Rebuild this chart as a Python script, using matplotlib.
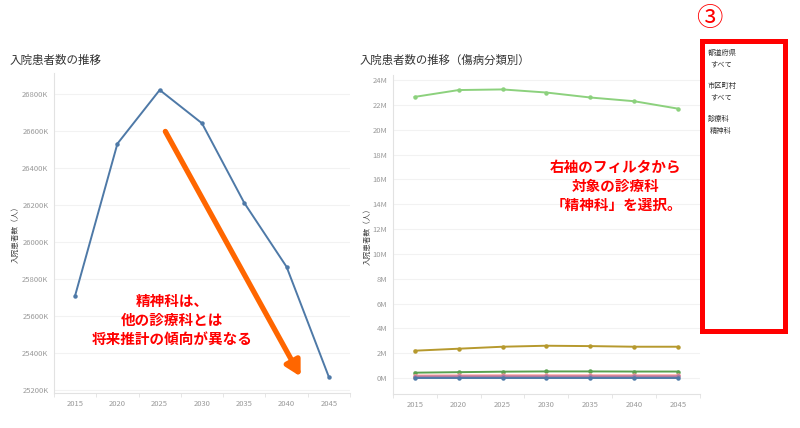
import matplotlib
matplotlib.use('Agg')
import matplotlib.pyplot as plt
from matplotlib.patches import Rectangle, FancyArrowPatch
from matplotlib.ticker import FuncFormatter

plt.rcParams['font.family'] = ['Noto Sans CJK JP', 'DejaVu Sans']

years = [2015, 2020, 2025, 2030, 2035, 2040, 2045]

# 精神科 inpatients (thousands)
psych_k = [25710, 26530, 26820, 26640, 26210, 25865, 25270]

# by disease category (millions)
cat_names = ['cat_a', 'cat_b', 'cat_c', 'cat_d', 'cat_e', 'cat_f']
cat_values = [
    [22.65, 23.2, 23.25, 23.0, 22.6, 22.3, 21.7],
    [2.2, 2.36, 2.52, 2.6, 2.57, 2.52, 2.52],
    [0.43, 0.47, 0.51, 0.53, 0.53, 0.52, 0.52],
    [0.2, 0.21, 0.22, 0.22, 0.22, 0.22, 0.22],
    [0.12, 0.13, 0.13, 0.13, 0.13, 0.13, 0.13],
    [0.02, 0.02, 0.02, 0.02, 0.02, 0.02, 0.02],
]
cat_colors = ['#8cd17d', '#b6992d', '#59a14f', '#ff9d9a', '#b07aa1', '#4e79a7']

left_ticks = [25200, 25400, 25600, 25800, 26000, 26200, 26400, 26600, 26800]
right_ticks = list(range(0, 25, 2))

filters = [('都道府県', 'すべて'), ('市区町村', 'すべて'), ('診療科', '精神科')]

TICK_C = '#9a9a9a'
GRID_C = '#f2f2f2'


def style_axis(ax):
    for s in ('top', 'right'):
        ax.spines[s].set_visible(False)
    for s in ('left', 'bottom'):
        ax.spines[s].set_color('#e2e2e2')
        ax.spines[s].set_linewidth(0.8)
    ax.set_xlim(2012.5, 2047.5)
    ax.set_xticks(years)
    ax.set_xticks([y - 2.5 for y in years] + [2047.5], minor=True)
    ax.tick_params(axis='x', which='major', length=0, labelsize=5.5, colors=TICK_C, pad=5)
    ax.tick_params(axis='x', which='minor', length=3, color='#e2e2e2')
    ax.tick_params(axis='y', length=0, labelsize=5.5, colors=TICK_C, pad=4)
    ax.grid(axis='y', color=GRID_C, lw=0.8)
    ax.set_axisbelow(True)
    ax.set_ylabel('入院患者数（人）', fontsize=5.5, color='#444444', labelpad=4)


fig = plt.figure(figsize=(8, 4.28), dpi=100)

# left: psychiatry only
ax1 = fig.add_axes([0.0675, 0.082, 0.37, 0.748])
ax1.plot(years, psych_k, '-o', color='#4e79a7', lw=1.4, ms=2.2)
ax1.set_ylim(25184, 26913)
ax1.set_yticks(left_ticks)
ax1.yaxis.set_major_formatter(FuncFormatter(lambda v, p: f'{int(v)}K'))
style_axis(ax1)
ax1.yaxis.set_label_coords(-0.115, 0.5)

# right: by category
ax2 = fig.add_axes([0.491, 0.0794, 0.384, 0.745])
for vals, col in zip(cat_values, cat_colors):
    ax2.plot(years, vals, '-o', color=col, lw=1.4, ms=2.2)
ax2.set_ylim(-1.29, 24.4)
ax2.set_yticks(right_ticks)
ax2.yaxis.set_major_formatter(FuncFormatter(lambda v, p: f'{int(v)}M'))
style_axis(ax2)
ax2.yaxis.set_label_coords(-0.07, 0.5)

# titles
fig.text(10 / 800, 1 - 60 / 428, '入院患者数の推移', fontsize=8.3, color='#333333', va='center')
fig.text(360 / 800, 1 - 60 / 428, '入院患者数の推移（傷病分類別）', fontsize=8.2, color='#333333', va='center')

# annotations
fig.text(172 / 800, 1 - 320 / 428, '精神科は、\n他の診療科とは\n将来推計の傾向が異なる',
         fontsize=10.5, color='#ff0000', fontweight='bold', ha='center', va='center',
         linespacing=1.25)
fig.text(616 / 800, 1 - 186 / 428, '右袖のフィルタから\n対象の診療科\n「精神科」を選択。',
         fontsize=10.5, color='#ff0000', fontweight='bold', ha='center', va='center',
         linespacing=1.25)

arrow = FancyArrowPatch((164 / 800, 1 - 129 / 428), (302 / 800, 1 - 379 / 428),
                        transform=fig.transFigure, arrowstyle='-|>,head_length=4,head_width=2.2',
                        mutation_scale=2.2, color='#ff6600', lw=3.8)
fig.add_artist(arrow)

# filter panel
box = Rectangle((701.5 / 800, 1 - 330.5 / 428), 83 / 800, 289.5 / 428, transform=fig.transFigure,
                fill=False, edgecolor='#ff0000', lw=3.6)
fig.add_artist(box)
fig.text(709.5 / 800, 1 - 18 / 428, '③', fontsize=19, color='#ff0000', ha='center', va='center')

y = 53
for head, val in filters:
    fig.text(708 / 800, 1 - y / 428, head, fontsize=5.2, color='#333333', va='center')
    fig.text(710 / 800, 1 - (y + 11.5) / 428, val, fontsize=5.2, color='#333333', va='center')
    y += 33

fig.savefig('out.png', dpi=100)
